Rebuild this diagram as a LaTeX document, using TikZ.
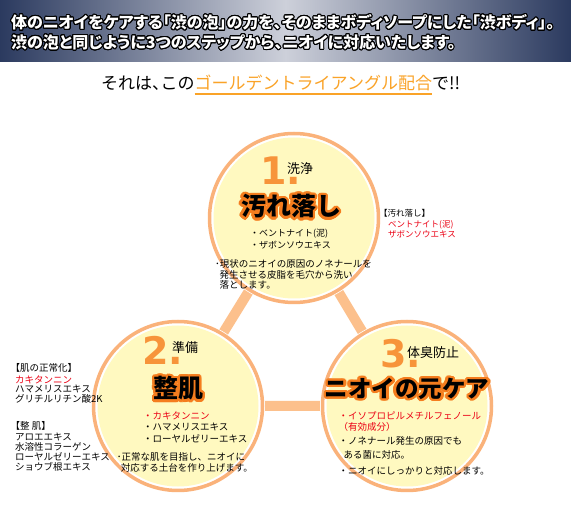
\documentclass[tikz,border=0pt]{standalone}
\usepackage{fontspec}
\setmainfont{Noto Sans CJK JP}
\newfontfamily\jpprop{Noto Sans CJK JP}[RawFeature=+palt]
\newfontfamily\numfont{DejaVu Sans}
\usepackage{contour}
\contournumber{24}

\definecolor{cabeza}{RGB}{43,58,95}
\definecolor{cabezaclara}{RGB}{205,208,218}
\definecolor{aro}{RGB}{250,178,122}
\definecolor{barra}{RGB}{252,192,140}
\definecolor{crema}{RGB}{255,249,192}
\definecolor{naranja}{RGB}{247,148,58}
\definecolor{brillo}{RGB}{245,125,30}
\definecolor{dorado}{RGB}{250,163,40}
\definecolor{rojo}{RGB}{235,0,20}

\newsavebox\cajasub
\newcommand{\subraya}[1]{\sbox\cajasub{#1}\rlap{\usebox\cajasub}\rule[-4.6pt]{\wd\cajasub}{1.2pt}}
\newcommand{\brilla}[1]{\contourlength{2.4pt}\contour{brillo}{#1}}
\newcommand{\borde}[1]{\contourlength{1pt}\contour{black}{#1}}

\tikzset{
    texto/.style={inner sep=0pt,anchor=west,font=\fontsize{9.5}{10}\selectfont},
    nota/.style={texto,font=\fontsize{9}{10}\selectfont},
    numero/.style={inner sep=0pt,anchor=base west,text=naranja,
        font=\numfont\bfseries\fontsize{38}{38}\selectfont},
    etapa/.style={inner sep=0pt,anchor=west,font=\fontsize{13}{13}\selectfont},
    titulo/.style={inner sep=0pt,font=\bfseries\fontsize{25}{25}\selectfont},
    cabecera/.style={inner sep=0pt,anchor=west,text=white,
        font=\jpprop\bfseries\fontsize{16}{16}\selectfont},
}

\begin{document}
\begin{tikzpicture}[x=1pt,y=-1pt,line cap=round,line join=round]
        \useasboundingbox (0,0) rectangle (571,505);
        \fill[white] (0,0) rectangle (571,505);

        % Cabecera
        \shade[left color=cabeza,right color=cabeza,middle color=cabezaclara]
            (0,0) rectangle (571,62);
        \node[cabecera] (lin1) at (11,22.8)
            {\borde{体のニオイをケアする「渋の泡」の力を、そのままボディソープにした「渋ボディ」。}};
        \node[cabecera] (lin2) at (11,42.8)
            {\borde{渋の泡と同じように3つのステップから、ニオイに対応いたします。}};
        \node[inner sep=0pt,anchor=west,font=\fontsize{17}{17}\selectfont] (lema) at (101,85)
            {それは{\jpprop 、}この\textcolor{dorado}{\subraya{ゴールデントライアングル配合}}で!!};

        % Triangulo y circulos
        \coordinate (c1) at (294,218);
        \coordinate (c2) at (178,406);
        \coordinate (c3) at (407,406);
        \draw[barra,line width=10pt] (c1) -- (c2) -- (c3) -- cycle;
        \foreach \c in {c1,c2,c3} {
            \fill[white] (\c) circle (87pt);
            \draw[aro,line width=3.5pt] (\c) circle (84.5pt);
            \fill[crema] (\c) circle (80.5pt);
        }

        % 1. Lavado
        \node[numero] (n1) at (260,185) {1.};
        \node[etapa] (e1) at (287,168.5) {洗浄};
        \node[titulo] (t1) at (291,207.5) {\brilla{汚れ落し}};
        \node[nota] (b11) at (250,234) {・ベントナイト(泥)};
        \node[nota] (b12) at (250,245) {・ザボンソウエキス};
        \node[texto] (d11) at (215,264) {･現状のニオイの原因のノネナールを};
        \node[texto] (d12) at (219.5,274.5) {発生させる皮脂を毛穴から洗い};
        \node[texto] (d13) at (219.5,285) {落とします。};
        \node[texto,font=\fontsize{8.5}{9}\selectfont] (s11) at (379,213.3) {【汚れ落し】};
        \node[texto,font=\fontsize{8.5}{9}\selectfont,text=rojo] (s12) at (388,225) {ベントナイト(泥)};
        \node[texto,font=\fontsize{8.5}{9}\selectfont,text=rojo] (s13) at (388,234.3) {ザボンソウエキス};

        % 2. Preparacion
        \node[numero] (n2) at (142,365) {2.};
        \node[etapa] (e2) at (172,347.5) {準備};
        \node[titulo] (t2) at (178.5,389.5) {\brilla{整肌}};
        \node[texto,text=rojo] (b21) at (143,415.7) {・カキタンニン};
        \node[texto] (b22) at (143,427.3) {・ハマメリスエキス};
        \node[texto] (b23) at (143,438.3) {・ローヤルゼリーエキス};
        \node[texto] (d21) at (116.7,456.7) {･正常な肌を目指し、ニオイに};
        \node[texto] (d22) at (120.7,468.3) {対応する土台を作り上げます。};
        \foreach \xx/\yy/\tx [count=\i] in {10.5/368.3/{【肌の正常化】},15/380/{\textcolor{rojo}{カキタンニン}},
                15/389.3/{ハマメリスエキス},15/399.3/{グリチルリチン酸2K},10.5/426/{【整 肌】},
                15/436.7/{アロエエキス},15/446.7/{水溶性コラーゲン},15/456.7/{ローヤルゼリーエキス},
                15/466.7/{ショウブ根エキス}} {
            \node[texto] (izq\i) at (\xx,\yy) {\tx};
        }

        % 3. Prevencion del olor
        \node[numero] (n3) at (380,368) {3.};
        \node[etapa] (e3) at (407,352.5) {体臭防止};
        \node[titulo,font=\bfseries\fontsize{23.5}{23.5}\selectfont] (t3) at (407,390) {\brilla{ニオイの元ケア}};
        \node[texto,text=rojo] (b31) at (338.3,416) {・イソプロピルメチルフェノール};
        \node[texto,text=rojo] (b32) at (338.3,426.7) {（有効成分）};
        \node[texto] (d31) at (338.3,440.7) {・ノネナール発生の原因でも};
        \node[texto] (d32) at (343.3,455) {ある菌に対応。};
        \node[texto] (d33) at (338.3,470.7) {・ニオイにしっかりと対応します。};
    \end{tikzpicture}
\end{document}
